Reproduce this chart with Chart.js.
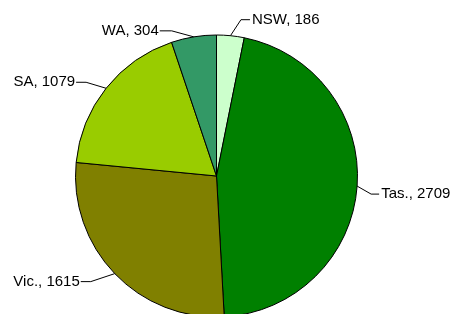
<!DOCTYPE html>
<html>
<head>
<meta charset="utf-8">
<script src="https://cdn.jsdelivr.net/npm/chart.js@4"></script>
<style>
  html, body { margin: 0; padding: 0; background: #fff; overflow: hidden; }
  #wrap { width: 453px; height: 314px; overflow: hidden; }
</style>
</head>
<body>
<div id="wrap"><canvas id="pie" width="453" height="360"></canvas></div>
<script>
// data
const states = ['NSW', 'Tas.', 'Vic.', 'SA', 'WA'];
const values = [186, 2709, 1615, 1079, 304];
const colours = ['#CCFFCC', '#008000', '#808000', '#99CC00', '#339966'];

// leader line: bend offset from the slice edge, then horizontal run length (px)
const elbows = [[10.5, -16], [14, 8], [-24, 8], [-20, -6], [-22, -6]];
const runs = [9, 8, 10, 10, 12];

const leaderLabels = {
    id: 'leaderLabels',
    afterDraw(chart) {
        const ctx = chart.ctx;
        const meta = chart.getDatasetMeta(0);
        ctx.save();
        ctx.strokeStyle = '#000';
        ctx.lineWidth = 1;
        ctx.fillStyle = '#000';
        ctx.font = '15px "Liberation Sans", Arial, sans-serif';
        ctx.textBaseline = 'middle';
        meta.data.forEach((arc, i) => {
            const mid = (arc.startAngle + arc.endAngle) / 2;
            const ex = arc.x + Math.cos(mid) * arc.outerRadius;
            const ey = arc.y + Math.sin(mid) * arc.outerRadius;
            const bx = ex + elbows[i][0];
            const by = ey + elbows[i][1];
            const right = elbows[i][0] > 0;
            const hx = bx + (right ? runs[i] : -runs[i]);
            ctx.beginPath();
            ctx.moveTo(ex, ey);
            ctx.lineTo(bx, by);
            ctx.lineTo(hx, by);
            ctx.stroke();
            ctx.textAlign = right ? 'left' : 'right';
            ctx.fillText(states[i] + ', ' + values[i], hx + (right ? 2 : -1), by);
        });
        ctx.restore();
    }
};

new Chart(document.getElementById('pie'), {
    type: 'pie',
    data: {
        labels: states,
        datasets: [{
            data: values,
            backgroundColor: colours,
            borderColor: '#000',
            borderWidth: 1
        }]
    },
    options: {
        responsive: false,
        animation: false,
        layout: { padding: { left: 75, right: 95, top: 34, bottom: 42 } },
        plugins: {
            legend: { display: false },
            tooltip: { enabled: false }
        }
    },
    plugins: [leaderLabels]
});
</script>
</body>
</html>
